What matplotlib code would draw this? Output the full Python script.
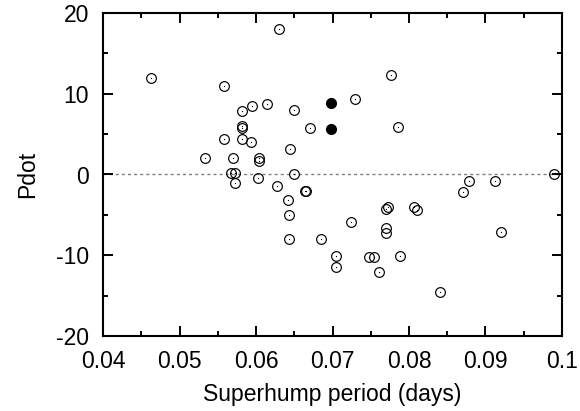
import matplotlib
matplotlib.use("Agg")
import matplotlib.pyplot as plt
from matplotlib.ticker import MultipleLocator

plt.rcParams["font.family"] = ["Liberation Sans", "DejaVu Sans"]
plt.rcParams["axes.unicode_minus"] = False

# superhump period (days) and Pdot, open symbols
period = [0.0463, 0.0630, 0.0558, 0.0777, 0.0729, 0.0615, 0.0595, 0.0582,
          0.0650, 0.0582, 0.0582, 0.0670, 0.0785, 0.0558, 0.0582, 0.0593,
          0.0645, 0.0533, 0.0570, 0.0604, 0.0604, 0.0567, 0.0572, 0.0602,
          0.0650, 0.0572, 0.0628, 0.0664, 0.0665, 0.0642, 0.0643, 0.0643,
          0.0685, 0.0724, 0.0704, 0.0704, 0.0748, 0.0754, 0.0761, 0.0770,
          0.0773, 0.0770, 0.0770, 0.0788, 0.0806, 0.0811, 0.0841, 0.0871,
          0.0879, 0.0913, 0.0920, 0.0990]
pdot = [12.0, 18.0, 11.0, 12.3, 9.3, 8.7, 8.5, 7.9,
        8.0, 6.0, 5.7, 5.7, 5.9, 4.4, 4.4, 4.0,
        3.2, 2.1, 2.1, 2.0, 1.7, 0.15, 0.15, -0.4,
        0.0, -1.0, -1.4, -2.0, -2.1, -3.2, -5.0, -8.0,
        -8.0, -5.85, -10.1, -11.5, -10.25, -10.25, -12.05, -4.25,
        -4.05, -6.6, -7.3, -10.1, -4.0, -4.4, -14.6, -2.2,
        -0.8, -0.8, -7.1, 0.0]

# filled symbols
period_filled = [0.0698, 0.0698]
pdot_filled = [8.9, 5.6]

fig = plt.figure(figsize=(5.8, 4.11), dpi=100)
ax = fig.add_axes([103 / 580, 1 - 336 / 411, (562 - 103) / 580, (336 - 13) / 411])

ax.axhline(0, color="#808080", linestyle=(0, (2.2, 2.2)), linewidth=1.0, zorder=1)

ax.plot(period, pdot, linestyle="none", marker="o", markersize=7,
        markerfacecolor="none", markeredgecolor="black", markeredgewidth=0.85, zorder=3)
ax.plot(period, pdot, linestyle="none", marker="s", markersize=0.8,
        markerfacecolor="black", markeredgecolor="none", zorder=3)
ax.plot(period_filled, pdot_filled, linestyle="none", marker="o", markersize=7,
        color="black", zorder=4)

ax.set_xlim(0.04, 0.1)
ax.set_ylim(-20, 20)
ax.xaxis.set_minor_locator(MultipleLocator(0.005))
ax.yaxis.set_major_locator(MultipleLocator(10))
ax.yaxis.set_minor_locator(MultipleLocator(5))
ax.set_xticks([0.04, 0.05, 0.06, 0.07, 0.08, 0.09, 0.1])
ax.set_xticklabels(["0.04", "0.05", "0.06", "0.07", "0.08", "0.09", "0.1"])

ax.tick_params(which="both", direction="in", top=True, right=True,
               labelsize=16.5, width=1.4, pad=10)
ax.tick_params(which="major", length=7)
ax.tick_params(which="minor", length=3.5)
for s in ax.spines.values():
    s.set_linewidth(1.5)

ax.set_xlabel("Superhump period (days)", fontsize=16.5, labelpad=7)
ax.set_ylabel("Pdot", fontsize=16.5, labelpad=12)

fig.savefig("out.png", dpi=100)
